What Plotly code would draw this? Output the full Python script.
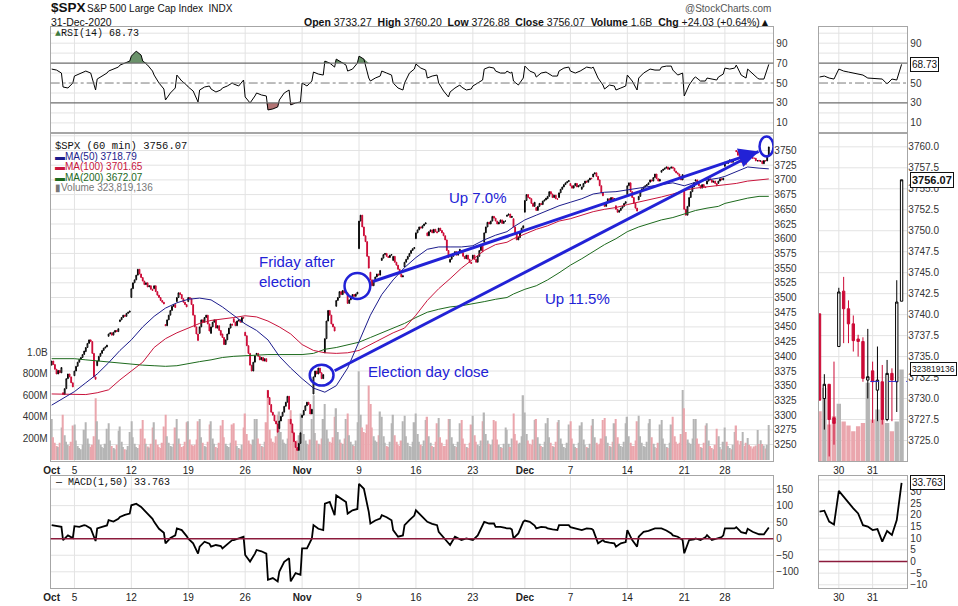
import numpy as np
import plotly.graph_objects as go

W, H = 958, 606

# ---------------- data ----------------
days = ["2020-10-01","2020-10-02","2020-10-05","2020-10-06","2020-10-07","2020-10-08","2020-10-09",
        "2020-10-12","2020-10-13","2020-10-14","2020-10-15","2020-10-16","2020-10-19","2020-10-20",
        "2020-10-21","2020-10-22","2020-10-23","2020-10-26","2020-10-27","2020-10-28","2020-10-29",
        "2020-10-30","2020-11-02","2020-11-03","2020-11-04","2020-11-05","2020-11-06","2020-11-09",
        "2020-11-10","2020-11-11","2020-11-12","2020-11-13","2020-11-16","2020-11-17","2020-11-18",
        "2020-11-19","2020-11-20","2020-11-23","2020-11-24","2020-11-25","2020-11-27","2020-11-30",
        "2020-12-01","2020-12-02","2020-12-03","2020-12-04","2020-12-07","2020-12-08","2020-12-09",
        "2020-12-10","2020-12-11","2020-12-14","2020-12-15","2020-12-16","2020-12-17","2020-12-18",
        "2020-12-21","2020-12-22","2020-12-23","2020-12-24","2020-12-28","2020-12-29","2020-12-30",
        "2020-12-31"]
half_days = ["2020-11-27", "2020-12-24"]

day_open = [3385,3338,3367,3408,3384,3434,3459,3500,3534,3515,3454,3493,3493,3439,3439,3438,3464,
            3441,3403,3342,3277,3293,3296,3336,3406,3485,3508,3583,3543,3563,3563,3552,3600,3610,
            3612,3560,3580,3566,3594,3635,3638,3634,3645,3653,3668,3670,3694,3684,3705,3659,3656,
            3675,3666,3696,3713,3722,3684,3698,3693,3694,3723,3750,3736.2,3733.3]

hourly_close = [
    [3392,3386,3378,3370,3376,3372,3381],[3335,3345,3362,3370,3365,3355,3348],
    [3375,3383,3390,3395,3398,3403,3409],[3415,3422,3428,3425,3405,3365,3361],
    [3392,3400,3405,3410,3414,3416,3419],[3438,3440,3436,3441,3444,3442,3447],
    [3462,3466,3470,3468,3473,3475,3477],[3515,3525,3530,3538,3548,3540,3534],
    [3528,3522,3525,3518,3520,3514,3512],[3520,3510,3504,3500,3495,3492,3489],
    [3452,3462,3470,3478,3485,3488,3483],[3500,3508,3505,3498,3492,3488,3484],
    [3500,3498,3488,3470,3450,3438,3427],[3450,3462,3458,3466,3470,3455,3443],
    [3450,3458,3462,3448,3452,3444,3436],[3432,3420,3428,3438,3448,3455,3453],
    [3458,3452,3460,3462,3458,3466,3465],[3435,3418,3405,3385,3375,3390,3401],
    [3405,3400,3394,3398,3392,3396,3391],[3330,3318,3305,3300,3290,3285,3271],
    [3290,3298,3305,3315,3322,3332,3310],[3285,3270,3255,3245,3240,3252,3270],
    [3300,3308,3316,3322,3318,3302,3310],[3365,3375,3370,3380,3372,3362,3369],
    [3430,3460,3478,3470,3455,3450,3443],[3495,3500,3510,3505,3512,3508,3510],
    [3490,3496,3500,3505,3502,3506,3509],[3630,3640,3620,3605,3595,3570,3550],
    [3530,3520,3528,3535,3540,3538,3546],[3567,3573,3575,3570,3568,3572,3573],
    [3570,3560,3555,3548,3540,3535,3537],[3560,3565,3570,3575,3580,3583,3585],
    [3610,3615,3620,3618,3622,3625,3627],[3605,3612,3615,3610,3616,3612,3610],
    [3618,3614,3610,3605,3598,3580,3568],[3565,3570,3575,3578,3572,3576,3582],
    [3576,3570,3566,3572,3565,3560,3558],[3572,3565,3560,3570,3580,3590,3578],
    [3610,3620,3628,3625,3630,3638,3635],[3630,3625,3628,3632,3626,3630,3630],
    [3640,3642,3636,3638],[3620,3610,3598,3602,3610,3618,3622],
    [3665,3675,3670,3668,3660,3655,3662],[3648,3655,3660,3658,3664,3666,3669],
    [3672,3680,3676,3670,3674,3668,3667],[3678,3684,3688,3692,3695,3697,3699],
    [3690,3686,3690,3694,3688,3690,3692],[3688,3694,3698,3696,3700,3703,3702],
    [3710,3712,3706,3700,3690,3678,3673],[3655,3662,3668,3665,3670,3666,3668],
    [3650,3645,3648,3652,3655,3660,3663],[3690,3695,3680,3670,3660,3652,3647],
    [3672,3680,3685,3688,3690,3692,3695],[3700,3698,3704,3710,3702,3698,3701],
    [3716,3718,3720,3722,3718,3720,3722],[3720,3715,3712,3710,3706,3700,3709],
    [3650,3640,3655,3670,3680,3688,3695],[3700,3694,3690,3686,3692,3688,3687],
    [3698,3702,3700,3696,3698,3694,3690],[3698,3702,3700,3703],
    [3730,3728,3732,3734,3730,3733,3735],[3748,3742,3740,3730,3732,3727.5,3727.04],
    [3742.7,3740.7,3738.9,3736.9,3736.8,3732.4,3732.6],[3732.0,3732.2,3727.5,3733.0,3732.2,3741.5,3756.07]]

hourly_volume_m = [
    [380,210,160,130,120,160,300],[420,230,170,140,130,170,320],[330,180,130,110,100,140,280],
    [350,200,150,120,140,220,572],[360,190,140,120,110,150,290],[340,180,130,110,100,140,270],
    [310,170,120,100,95,130,260],[360,210,150,120,110,140,290],[370,200,150,125,115,150,300],
    [350,190,140,120,110,160,310],[420,220,160,130,120,150,300],[380,200,150,120,130,170,350],
    [360,190,140,130,140,190,360],[380,210,160,130,120,170,330],[360,200,150,120,110,160,320],
    [370,210,150,130,120,160,330],[340,180,130,110,100,140,300],[430,240,180,150,140,190,380],
    [380,200,150,130,120,170,350],[650,280,200,170,160,220,420],[450,260,190,160,150,200,380],
    [460,270,200,170,180,230,430],[420,240,180,150,140,190,380],[600,250,180,150,140,200,380],
    [520,280,200,170,160,210,400],[480,260,190,160,150,200,380],[430,230,170,140,130,180,350],
    [823,420,300,260,250,330,690],[520,300,220,180,170,230,450],[400,220,160,130,120,170,340],
    [420,230,170,140,130,180,360],[410,220,160,130,120,170,350],[430,240,170,140,130,180,370],
    [400,220,160,130,120,170,340],[390,210,160,130,130,190,380],[380,210,150,130,120,170,340],
    [370,200,150,120,110,160,330],[410,230,170,140,130,180,360],[440,240,180,150,140,190,370],
    [360,190,140,120,110,150,300],[280,150,120,200],[430,240,180,150,160,220,600],
    [440,240,180,150,140,190,370],[380,210,150,130,120,170,340],[390,210,160,130,120,170,350],
    [370,200,150,120,110,160,330],[360,200,150,120,110,160,320],[350,190,140,120,110,150,320],
    [380,210,160,140,150,200,370],[390,220,160,130,120,170,340],[380,210,150,130,120,170,340],
    [400,220,160,130,130,180,360],[410,220,160,130,120,170,340],[380,210,150,120,110,160,330],
    [370,200,150,120,110,160,330],[400,220,170,150,160,240,650],[480,260,190,160,150,200,380],
    [380,200,150,120,110,160,320],[340,180,130,110,100,140,290],[220,120,100,170],
    [300,170,130,110,100,140,260],[320,180,140,177,259,130,159],[203,141,127,106,124,135,277],
    [147,183,147,135,106,141,324]]

# RSI(14) and MACD(1,50): three readings per session (first, middle, last hour)
rsi_session = [
    [64,63,60],[46,45,50],[57,59,61],[62,60,43],[54,57,60],[62,64,66],[68,70,72],[77,82,78],
    [72,68,62],[58,50,44],[33,40,45],[58,52,48],[46,42,31],[43,46,47],[44,41,43],[45,47,50],
    [49,47,53],[36,30,37],[40,38,37],[23,24,26],[33,40,43],[28,30,31],[50,47,52],[61,59,58],
    [72,70,66],[74,71,68],[62,64,70],[77,74,55],[52,55,57],[62,60,58],[50,45,43],[50,60,64],
    [69,65,63],[55,57,58],[50,42,36],[41,45,48],[46,43,44],[47,50,53],[64,66,65],[62,60,60],
    [62,60,61],[52,48,55],[67,62,60],[56,60,61],[60,57,57],[62,65,66],[62,60,62],[63,66,65],
    [66,55,48],[44,48,47],[43,45,47],[58,52,43],[55,60,63],[64,63,63],[66,67,67],[63,58,60],
    [37,48,55],[56,52,52],[55,54,53],[56,58,59],[65,64,65],[68,58,55],[64,59,55],[54,54,68.73]]

macd_session = [
    [41,38,36],[-4,10,2],[38,36,41],[40,31,-7],[31,36,40],[56,52,60],[66,72,76],[101,106,96],
    [91,75,60],[51,30,18],[-14,2,10],[31,26,8],[0,-14,-45],[-24,-9,-15],[-24,-19,-22],[-29,-15,-4],
    [-4,2,6],[-49,-69,-45],[-34,-38,-45],[-124,-119,-129],[-99,-70,-59],[-129,-104,-109],[-29,-29,1],[41,30,26],
    [106,111,71],[131,120,111],[76,86,90],[166,151,81],[46,55,61],[71,65,56],[26,6,10],[41,56,70],
    [86,70,56],[51,45,41],[21,5,-14],[-19,6,0],[-4,1,-2],[-4,10,41],[51,46,46],[36,36,33],
    [31,31,28],[1,16,51],[55,51,40],[31,36,34],[31,28,26],[41,41,41],[35,31,28],[26,31,30],
    [26,-14,-4],[-9,-12,-14],[-24,-14,-10],[26,-4,-24],[6,21,24],[26,31,31],[31,25,16],[10,6,-4],
    [-44,-4,-2],[1,-4,4],[11,-4,0],[1,5,10],[31,31,31],[35,20,16],[30,21,15],[13.5,13.1,33.76]]

# moving averages at the first hour of each session, plus final value
ma50 = [3317,3328,3340,3355,3370,3389,3410,3428,3450,3468,3482,3491,3497,3499,3496,3484,3470,
        3455,3444,3428,3400,3380,3362,3346,3339,3350,3380,3425,3470,3505,3530,3551,3568,3582,
        3586,3586,3586,3588,3598,3606,3612,3620,3632,3640,3648,3656,3662,3668,3676,3679,3680,
        3683,3685,3688,3692,3695,3690,3696,3700,3703,3706,3714,3722,3720,3718.79]
ma100 = [3336,3336,3336,3335,3338,3343,3360,3375,3390,3415,3430,3440,3448,3456,3461,3463,3466,
         3469,3467,3460,3450,3438,3420,3410,3406,3405,3406,3410,3420,3430,3440,3448,3470,3495,
         3515,3532,3550,3565,3580,3590,3594,3600,3608,3616,3622,3630,3634,3640,3646,3650,3653,
         3658,3662,3666,3671,3676,3682,3686,3688,3690,3691,3694,3698,3700,3701.65]
ma200 = [3396,3396,3396,3394,3392,3390,3388,3386,3385,3384,3383,3384,3388,3391,3394,3398,3400,
         3401,3403,3403,3403,3403,3403,3405,3412,3415,3419,3424,3432,3440,3447,3456,3466,3475,
         3480,3484,3486,3489,3493,3497,3500,3506,3514,3520,3530,3542,3555,3566,3578,3590,3600,
         3612,3620,3626,3632,3636,3642,3648,3652,3655,3660,3665,3669,3672,3672.07]

# right-hand zoom panel: last bars (Dec 29 hour 4 .. Dec 31 hour 7)
zoom_day = ["2020-12-29"]*4 + ["2020-12-30"]*7 + ["2020-12-31"]*7
zoom_hour = [3,4,5,6] + list(range(7)) + list(range(7))
zoom_open = [3740.1,3730.0,3731.7,3727.7,3736.2,3742.8,3740.7,3738.9,3737.1,3736.8,3732.2,
             3733.3,3731.0,3732.0,3727.5,3733.0,3732.0,3741.6]
zoom_high = [3740.1,3732.9,3731.7,3734.4,3743.2,3744.5,3741.7,3739.9,3737.6,3737.3,3738.3,
             3734.4,3736.2,3734.0,3734.6,3733.6,3744.1,3756.07]
zoom_low = [3729.8,3726.3,3723.1,3724.5,3736.2,3736.6,3736.6,3735.6,3735.0,3732.0,3730.0,
            3727.1,3727.3,3726.9,3727.3,3727.3,3728.4,3741.6]
zoom_close = [3729.8,3731.7,3727.5,3727.04,3742.7,3740.7,3738.9,3736.9,3736.8,3732.4,3732.6,
              3732.0,3732.2,3727.5,3733.0,3732.2,3741.5,3756.07]
zoom_volume_m = [177,259,130,159,203,141,127,106,124,135,277,147,183,147,135,106,141,324]
zoom_rsi = [56,57,55,54,64,62,61,60,59,58,55,54.5,54,54,49,54,53,68.73]
zoom_macd = [21.4,21.8,17.1,15.9,30.3,27.8,24.9,22.8,20.6,15.6,15.0,13.5,13.9,8.5,13.1,11.4,17.8,33.76]
prev_close = 3732.04

tick_days = ["2020-10-01","2020-10-05","2020-10-12","2020-10-19","2020-10-26","2020-11-02",
             "2020-11-09","2020-11-16","2020-11-23","2020-12-01","2020-12-07","2020-12-14",
             "2020-12-21","2020-12-28"]
tick_text = ["<b>Oct</b>","5","12","19","26","<b>Nov</b>","9","16","23","<b>Dec</b>","7","14","21","28"]
zoom_tick_days = ["2020-12-30","2020-12-31"]
zoom_tick_text = ["30","31"]

# ---------------- build series on an hourly-slot axis ----------------
nbars = [4 if d in half_days else 7 for d in days]
start = np.concatenate([[0], np.cumsum(nbars)[:-1]])
didx = {d: i for i, d in enumerate(days)}
last_slot = int(start[-1] + nbars[-1] - 1)

def slot(date, k=0.0):
    return float(start[didx[date]] + k)

xs, op, cl, vol = [], [], [], []
for i, d in enumerate(days):
    closes = hourly_close[i]
    assert len(closes) == nbars[i] and len(hourly_volume_m[i]) == nbars[i]
    for k, v in enumerate(closes):
        xs.append(start[i] + k)
        op.append(day_open[i] if k == 0 else closes[k - 1])
        cl.append(v)
    vol.extend([v * 1e6 for v in hourly_volume_m[i]])
op, cl = np.array(op, float), np.array(cl, float)
hi, lo = np.maximum(op, cl), np.minimum(op, cl)

ind_x, rsi, macd = [], [], []
for i, d in enumerate(days):
    ks = [0, 3, 6] if nbars[i] == 7 else [0, 2, 3]
    for j, k in enumerate(ks):
        ind_x.append(start[i] + k)
        rsi.append(rsi_session[i][j])
        macd.append(macd_session[i][j])
rsi = np.array(rsi, float)

ma_x = list(start) + [last_slot]

zx = [slot(d, k) for d, k in zip(zoom_day, zoom_hour)]
zoom_rsi_a = np.array(zoom_rsi, float)

tick_x = [slot(d) for d in tick_days]
ztick_x = [slot(d) for d in zoom_tick_days]

# ---------------- styling constants ----------------
RED = "#cc0a36"
PINK = "#eaa6ad"
GRAYV = "#b5b5b5"
BLUE = "#2222d6"
NAVY = "#1c1c8c"
CRIM = "#c8143c"
GREEN = "#1d6a1d"
GRID = "#e3e3e3"
BORDER = "#a6a6a6"
FONT = "Liberation Sans, Arial, sans-serif"
MONO = "Liberation Mono, DejaVu Sans Mono, monospace"

def xd(a, b):
    return [a / W, b / W]

def yd(top, bot):
    return [1 - bot / H, 1 - top / H]

MX = (44, 772)
ZX = (818, 907)
RSI_Y = (27, 133)
PR_Y = (133, 463)
MACD_Y = (478, 590)

xr_main = [-0.61, 443.8]
xr_zoom = [423.9, 442.2]

fig = go.Figure()

# --- volume (main) ---
vcol = [PINK if c < o else GRAYV for o, c in zip(op, cl)]
fig.add_trace(go.Bar(x=xs, y=vol, marker=dict(color=vcol, line=dict(width=0)), width=0.82,
                     xaxis="x2", yaxis="y2"))
# --- MAs & candles (main) ---
fig.add_trace(go.Scatter(x=ma_x, y=ma200, mode="lines", line=dict(color=GREEN, width=1), xaxis="x2", yaxis="y7"))
fig.add_trace(go.Scatter(x=ma_x, y=ma100, mode="lines", line=dict(color=CRIM, width=1), xaxis="x2", yaxis="y7"))
fig.add_trace(go.Scatter(x=ma_x, y=ma50, mode="lines", line=dict(color=NAVY, width=1), xaxis="x2", yaxis="y7"))
fig.add_trace(go.Candlestick(x=xs, open=op, high=hi, low=lo, close=cl, xaxis="x2", yaxis="y7",
                             increasing=dict(line=dict(color="black", width=1), fillcolor="white"),
                             decreasing=dict(line=dict(color=RED, width=1), fillcolor=RED),
                             whiskerwidth=0))

# --- RSI main ---
def add_rsi(x, r, xa, ya):
    fig.add_trace(go.Scatter(x=x, y=[70] * len(x), mode="lines", line=dict(width=0), xaxis=xa, yaxis=ya))
    fig.add_trace(go.Scatter(x=x, y=np.maximum(r, 70), mode="lines", line=dict(width=0),
                             fill="tonexty", fillcolor="#6a926a", xaxis=xa, yaxis=ya))
    fig.add_trace(go.Scatter(x=x, y=[30] * len(x), mode="lines", line=dict(width=0), xaxis=xa, yaxis=ya))
    fig.add_trace(go.Scatter(x=x, y=np.minimum(r, 30), mode="lines", line=dict(width=0),
                             fill="tonexty", fillcolor="#b27474", xaxis=xa, yaxis=ya))
    fig.add_trace(go.Scatter(x=x, y=r, mode="lines", line=dict(color="black", width=1), xaxis=xa, yaxis=ya))

add_rsi(ind_x, rsi, "x", "y")
# --- MACD main ---
fig.add_trace(go.Scatter(x=ind_x, y=macd, mode="lines", line=dict(color="black", width=1.8), xaxis="x3", yaxis="y3"))

# --- zoom panel ---
zvcol = [PINK if c < o else GRAYV for o, c in zip(zoom_open, zoom_close)]
fig.add_trace(go.Bar(x=zx, y=[v * 1e6 for v in zoom_volume_m], marker=dict(color=zvcol, line=dict(width=0)),
                     width=0.9, xaxis="x5", yaxis="y5"))
fig.add_trace(go.Candlestick(x=zx, open=zoom_open, high=zoom_high, low=zoom_low, close=zoom_close,
                             xaxis="x5", yaxis="y8",
                             increasing=dict(line=dict(color="black", width=1), fillcolor="white"),
                             decreasing=dict(line=dict(color=RED, width=1), fillcolor=RED),
                             whiskerwidth=0))
add_rsi(zx, zoom_rsi_a, "x4", "y4")
fig.add_trace(go.Scatter(x=zx, y=zoom_macd, mode="lines", line=dict(color="black", width=1.8), xaxis="x6", yaxis="y6"))

# ---------------- axes ----------------
tf = dict(family=FONT, size=10, color="#333")
base = dict(showgrid=False, zeroline=False, showline=True, linecolor=BORDER, linewidth=1, mirror=True,
            ticks="", fixedrange=True)

layout = dict(
    width=W, height=H, margin=dict(l=0, r=0, t=0, b=0), paper_bgcolor="white", plot_bgcolor="white",
    showlegend=False, hovermode=False,
    xaxis=dict(base, domain=xd(*MX), range=xr_main, anchor="y", showticklabels=False),
    yaxis=dict(base, domain=yd(*RSI_Y), range=[0.3, 106.3], anchor="x", side="right",
               tickvals=[10, 30, 50, 70, 90], tickfont=tf),
    xaxis2=dict(base, domain=xd(*MX), range=xr_main, anchor="y2", tickvals=tick_x, ticktext=tick_text,
                tickfont=dict(family=FONT, size=10, color="#222"), rangeslider=dict(visible=False)),
    yaxis2=dict(base, domain=yd(*PR_Y), range=[-0.014e9, 3.037e9], anchor="x2", side="left",
                tickvals=[200e6, 400e6, 600e6, 800e6, 1e9], ticktext=["200M", "400M", "600M", "800M", "1.0B"],
                tickfont=tf),
    yaxis7=dict(showgrid=False, zeroline=False, showline=False, overlaying="y2", anchor="x2", side="right",
                range=[3221.2, 3780.5], tickvals=list(range(3250, 3751, 25)), tickfont=tf, fixedrange=True),
    xaxis3=dict(base, domain=xd(*MX), range=xr_main, anchor="y3", tickvals=tick_x, ticktext=tick_text,
                tickfont=dict(family=FONT, size=10, color="#222")),
    yaxis3=dict(base, domain=yd(*MACD_Y), range=[-149.1, 188.3], anchor="x3", side="right",
                tickvals=[-100, -50, 0, 50, 100, 150], tickfont=tf),
    xaxis4=dict(base, domain=xd(*ZX), range=xr_zoom, anchor="y4", showticklabels=False),
    yaxis4=dict(base, domain=yd(*RSI_Y), range=[0.3, 106.3], anchor="x4", side="right",
                tickvals=[10, 30, 50, 90], tickfont=tf),
    xaxis5=dict(base, domain=xd(*ZX), range=xr_zoom, anchor="y5", tickvals=ztick_x, ticktext=zoom_tick_text,
                tickfont=dict(family=FONT, size=10, color="#222"), rangeslider=dict(visible=False)),
    yaxis5=dict(base, domain=yd(*PR_Y), range=[0, 1157.6e6], anchor="x5", showticklabels=False),
    yaxis8=dict(showgrid=False, zeroline=False, showline=False, overlaying="y5", anchor="x5", side="right",
                range=[3722.5, 3761.7], tickvals=[3725 + 2.5 * i for i in range(15)], tickformat=".1f",
                tickfont=tf, fixedrange=True),
    xaxis6=dict(base, domain=xd(*ZX), range=xr_zoom, anchor="y6", tickvals=ztick_x, ticktext=zoom_tick_text,
                tickfont=dict(family=FONT, size=10, color="#222")),
    yaxis6=dict(base, domain=yd(*MACD_Y), range=[-11.4, 36.5], anchor="x6", side="right",
                tickvals=[-10, -5, 0, 5, 10, 15, 20, 25, 30], tickfont=tf),
)
fig.update_layout(**layout)

# ---------------- gridlines (below traces) ----------------
shapes = []
def hline(xref, yref, y, color=GRID, width=1, dash="solid", layer="below"):
    shapes.append(dict(type="line", xref=xref, yref=yref, x0=0, x1=1, y0=y, y1=y,
                       line=dict(color=color, width=width, dash=dash), layer=layer))
def vline(xref, yref, x, color=GRID):
    shapes.append(dict(type="line", xref=xref, yref=yref, x0=x, x1=x, y0=0, y1=1,
                       line=dict(color=color, width=1), layer="below"))

for xa, ya in [("x", "y domain"), ("x2", "y2 domain"), ("x3", "y3 domain")]:
    for tx in tick_x[1:]:
        vline(xa, ya, tx)
for xa, ya in [("x4", "y4 domain"), ("x5", "y5 domain"), ("x6", "y6 domain")]:
    for tx in ztick_x:
        vline(xa, ya, tx)
for p in range(3250, 3776, 25):
    hline("x2 domain", "y7", p)
for i in range(15):
    hline("x5 domain", "y8", 3725 + 2.5 * i)
for xa, ya in [("x domain", "y"), ("x4 domain", "y4")]:
    for r in [10, 20, 40, 60, 80, 90, 100]:
        hline(xa, ya, r)
    hline(xa, ya, 70, color="#6e6e6e", width=1.2, layer="above")
    hline(xa, ya, 30, color="#6e6e6e", width=1.2, layer="above")
    hline(xa, ya, 50, color="#7a7a7a", width=1, dash="dashdot", layer="above")
for m in [-100, -50, 50, 100, 150]:
    hline("x3 domain", "y3", m)
for m in [-10, -5, 5, 10, 15, 20, 25, 30, 35]:
    hline("x6 domain", "y6", m)
hline("x3 domain", "y3", 0, color="#8c1b3c", width=1.5, layer="above")
hline("x6 domain", "y6", 0, color="#8c1b3c", width=1.5, layer="above")
# previous-close marker in zoom panel
shapes.append(dict(type="line", xref="x5", yref="y8", x0=slot("2020-12-31") - 0.5, x1=xr_zoom[1],
                   y0=prev_close, y1=prev_close, line=dict(color="#2b2bd0", width=1, dash="dash"), layer="above"))

# ---------------- hand-drawn call-outs (blue) ----------------
# circles: (date, hour, price, half-width in hours, half-height in points)
circles = [("2020-11-03", 5.0, 3368, 7.3, 17.8),
           ("2020-11-06", 6.0, 3519.5, 7.9, 22.0),
           ("2020-12-31", 4.6, 3756.8, 4.3, 17.0)]
for d, k, p, rx, ry in circles:
    c = slot(d, k)
    shapes.append(dict(type="circle", xref="x2", yref="y7", x0=c - rx, x1=c + rx, y0=p - ry, y1=p + ry,
                       line=dict(color=BLUE, width=2.5), layer="above"))
tip = (slot("2020-12-30", 6.7), 3748.3)
start_115 = (slot("2020-11-04", 6.0), 3375.4)
start_70 = (slot("2020-11-10", 0.6), 3526.3)
shapes.append(dict(type="line", xref="x2", yref="y7", x0=start_115[0], y0=start_115[1], x1=tip[0], y1=tip[1],
                   line=dict(color=BLUE, width=3), layer="above"))
fig.update_layout(shapes=shapes)

ann = []
ann.append(dict(x=tip[0], y=tip[1], xref="x2", yref="y7", ax=start_70[0], ay=start_70[1], axref="x2", ayref="y7",
                text="", showarrow=True, arrowhead=2, arrowsize=1.3, arrowwidth=3, arrowcolor=BLUE, standoff=0))
callouts = [("Friday after<br>election", "2020-10-27", 0.4, 3544),
            ("Election day close", "2020-11-09", 4.5, 3373.7),
            ("Up 7.0%", "2020-11-18", 5.0, 3670.3),
            ("Up 11.5%", "2020-12-02", 4.2, 3499)]
for t, d, k, p in callouts:
    ann.append(dict(x=slot(d, k), y=p, xref="x2", yref="y7", text=t, showarrow=False, xanchor="left",
                    yanchor="middle", align="left", font=dict(family=FONT, size=15, color=BLUE)))

def ptext(x, y, t, size=11, color="#111", anchor="left", family=FONT):
    ann.append(dict(x=x / W, y=1 - y / H, xref="paper", yref="paper", text=t, showarrow=False,
                    xanchor=anchor, yanchor="middle", font=dict(family=family, size=size, color=color)))

# header
ptext(42, 8, "<b>$SPX</b>", size=13.5)
ptext(79, 9, "S&P 500 Large Cap Index  INDX", size=10)
ptext(42, 22, "31-Dec-2020", size=10.5)
ptext(771, 22, "<b>Open</b> 3733.27  <b>High</b> 3760.20  <b>Low</b> 3726.88  <b>Close</b> 3756.07  "
               "<b>Volume</b> 1.6B  <b>Chg</b> +24.03 (+0.64%)▲", size=10.5, anchor="right")
ptext(772, 9, "@StockCharts.com", size=10, color="#555", anchor="right")
# panel legends
ptext(46, 34, "<span style='color:#3d7a3d'>▲</span>RSI(14) 68.73", size=10, family=MONO)
ptext(46, 146, "$SPX (60 min) 3756.07", size=10.5, family=MONO)
ptext(46, 157, "▬MA(50) 3718.79", size=10, color=NAVY)
ptext(46, 167.5, "▬MA(100) 3701.65", size=10, color=CRIM)
ptext(46, 178, "▬MA(200) 3672.07", size=10, color=GREEN)
ptext(46, 188.5, "▮Volume 323,819,136", size=10, color="#777")
ptext(46, 484, "— MACD(1,50) 33.763", size=10, family=MONO)

# last-value boxes on zoom panel axes
def box(y, yref, t, bold=False, size=10):
    ann.append(dict(x=(ZX[1] + 3) / W, y=y, xref="paper", yref=yref, text=("<b>%s</b>" % t) if bold else t,
                    showarrow=False, xanchor="left", yanchor="middle", bgcolor="white", bordercolor="#111",
                    borderwidth=1, borderpad=1, font=dict(family=FONT, size=size, color="#111")))
box(68.73, "y4", "68.73")
box(3756.07, "y8", "3756.07", bold=True, size=11)
box(323.819136e6, "y5", "323819136", size=8.5)
box(33.763, "y6", "33.763")

fig.update_layout(annotations=ann)
fig.write_html("out.html")
